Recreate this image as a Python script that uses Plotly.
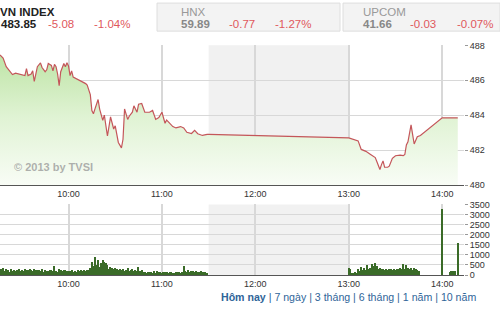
import plotly.graph_objects as go
import pandas as pd

DAY = "2013-07-01 "

# ---- index line data ----
idx_times = ["09:16","09:18","09:20","09:23","09:24","09:26","09:28","09:30","09:32","09:33",
             "09:34","09:36","09:37","09:38","09:39","09:40","09:42","09:43","09:45","09:46",
             "09:47","09:49","09:50","09:51","09:52","09:53","09:54","09:55","09:57","09:58",
             "09:59","10:00","10:01","10:02","10:03","10:06","10:09","10:11","10:12","10:14",
             "10:15","10:16","10:17","10:19","10:20","10:22","10:23","10:24","10:25","10:27",
             "10:29","10:30","10:32","10:34","10:35","10:36","10:38","10:39","10:41","10:42",
             "10:44","10:45","10:47","10:49","10:52","10:54","10:56","10:58","11:00","11:02",
             "11:03","11:04","11:07","11:09","11:12","11:14","11:16","11:19","11:21","11:23",
             "11:26","11:29","11:30",
             "13:00","13:02","13:04","13:06","13:08","13:11","13:14","13:15","13:17","13:18",
             "13:20","13:21","13:22","13:23","13:25","13:26","13:28","13:30","13:33","13:35",
             "13:36","13:37","13:38","13:40","13:41","13:42","13:44","13:46","14:00","14:10"]
idx_values = [487.45,487.27,486.78,486.45,486.33,486.41,486.36,486.33,486.27,486.67,
              486.27,486.36,486.54,485.94,486.45,486.78,487.00,486.73,486.49,486.60,
              486.96,486.85,486.54,486.91,486.78,486.36,485.69,486.49,486.96,486.78,
              487.00,486.82,486.27,486.54,486.18,486.05,485.94,485.81,485.72,485.18,
              484.27,484.08,484.36,484.90,484.35,483.70,484.00,483.35,482.81,483.90,
              483.21,483.39,482.44,482.13,482.62,484.36,483.76,483.94,484.17,484.54,
              484.17,484.63,484.67,484.17,484.17,484.27,483.76,483.87,484.17,483.54,
              483.72,483.63,483.35,483.27,483.35,483.27,483.02,482.95,483.13,482.94,
              482.84,482.90,482.90,
              482.70,482.63,482.59,482.53,482.04,481.93,481.75,481.68,481.57,481.35,
              480.89,481.17,481.38,481.02,481.02,481.08,481.53,481.68,481.71,481.68,
              481.75,482.30,482.48,483.45,482.81,482.35,482.77,482.84,483.85,483.85]

# ---- volume data ----
vol_morning = [300,260,340,180,290,220,150,260,200,240,
               170,230,260,190,250,160,280,230,210,260,
               240,180,270,220,250,230,190,260,150,240,
               200,170,230,210,160,420,200,150,270,230,
               180,220,250,190,
               200,160,230,150,190,140,210,170,230,180,250,200,240,
               250,330,640,420,880,500,720,400,560,740,620,560,480,300,380,330,260,320,
               280,250,300,220,260,200,240,310,180,220,260,200,230,170,380,200,240,
               120,150,90,140,110,130,80,160,100,190,120,140,90,150,110,130,80,120,140,100,
               90,130,110,150,100,120,
               430,
               200,150,230,130,160,190,120,170,140,110,160,130,120,150,100]
vol_afternoon = [350,280,60,90,120,60,270,180,400,250,350,240,460,300,350,510,420,560,430,300,
                 350,260,300,240,280,220,260,300,240,280,230,300,260,350,280,510,300,460,330,260,
                 350,230,330,280,250,200]
vol_late_times = ["14:00","14:05","14:06","14:07","14:08","14:10"]
vol_late = [3250,120,190,200,180,1580]

morning_times = [t.strftime("%H:%M") for t in pd.date_range(DAY + "09:16", DAY + "11:29", freq="1min")]
afternoon_times = [t.strftime("%H:%M") for t in pd.date_range(DAY + "13:00", DAY + "13:45", freq="1min")]
vol_times = morning_times + afternoon_times + vol_late_times
vol_values = vol_morning + vol_afternoon + vol_late

hour_ticks = ["10:00", "11:00", "12:00", "13:00", "14:00"]
idx_ticks = [480, 482, 484, 486, 488]
vol_ticks = [0, 500, 1000, 1500, 2000, 2500, 3000, 3500]

header = [("VN INDEX", "483.85", "-5.08", "-1.04%"),
          ("HNX", "59.89", "-0.77", "-1.27%"),
          ("UPCOM", "41.66", "-0.03", "-0.07%")]
links = ["Hôm nay", "7 ngày", "3 tháng", "6 tháng", "1 năm", "10 năm"]

W, H = 500, 312
FONT = "Arial, 'Liberation Sans', sans-serif"
RED = "#e0585c"

def px(x):
    return x / W
def py(y):
    return 1 - y / H

fig = go.Figure()

fig.add_trace(go.Scatter(
    x=[DAY + t for t in idx_times], y=idx_values, mode="lines",
    line=dict(color="#c4565a", width=1.2),
    fill="tozeroy",
    fillgradient=dict(type="vertical", start=480, stop=488,
                      colorscale=[[0, "rgba(250,253,248,1)"], [0.5, "#e0f3d4"], [1, "#b9e29f"]]),
    xaxis="x", yaxis="y", hoverinfo="skip", showlegend=False))

fig.add_trace(go.Bar(
    x=[DAY + t for t in vol_times], y=vol_values,
    marker=dict(color="#3a6b28", line=dict(width=0)),
    width=45000, xaxis="x2", yaxis="y2", showlegend=False, hoverinfo="skip"))

xr = [DAY + "09:16", DAY + "14:14"]
tickvals = [DAY + t for t in hour_ticks]
common_x = dict(type="date", range=xr, tickvals=tickvals, ticktext=hour_ticks,
                showgrid=True, gridcolor="#d8d8d8", gridwidth=1.5,
                showline=True, linecolor="#555", linewidth=1, ticks="",
                tickfont=dict(size=9, color="#333", family=FONT), zeroline=False,
                domain=[0, 464 / W], fixedrange=True)

fig.update_layout(
    width=W, height=H, margin=dict(l=0, r=0, t=0, b=0),
    paper_bgcolor="white", plot_bgcolor="white",
    xaxis=dict(**common_x, anchor="y"),
    xaxis2=dict(**common_x, anchor="y2"),
    yaxis=dict(domain=[py(186), py(41.7)], range=[480, 488], tickvals=idx_ticks,
               side="right", showgrid=True, gridcolor="#d8d8d8", zeroline=False,
               ticks="outside", ticklen=3, tickcolor="#999",
               tickfont=dict(size=9, color="#333", family=FONT), anchor="x"),
    yaxis2=dict(domain=[py(279), py(206)], range=[0, 3500], tickvals=vol_ticks,
                side="right", showgrid=True, gridcolor="#d8d8d8", zeroline=False,
                ticks="outside", ticklen=3, tickcolor="#999",
                tickfont=dict(size=9, color="#333", family=FONT), anchor="x2"),
    bargap=0,
)

# lunch break shading
for xa, ya in [("x", "y"), ("x2", "y2")]:
    fig.add_shape(type="rect", xref=xa, yref=ya + " domain", x0=DAY + "11:30", x1=DAY + "13:00",
                  y0=0, y1=1, fillcolor="#f1f1f1", line=dict(width=0), layer="below")

# header boxes
for x0, x1 in [(157, 340), (343, 500)]:
    fig.add_shape(type="rect", xref="paper", yref="paper", x0=px(x0), x1=px(x1),
                  y0=py(27), y1=py(-2), fillcolor="#f3f3f3", line=dict(color="#dedede", width=1))

def text(x, y, s, color="#222", size=11, bold=False):
    fig.add_annotation(x=px(x), y=py(y), xref="paper", yref="paper", text=("<b>%s</b>" % s) if bold else s,
                       showarrow=False, xanchor="left", yanchor="middle",
                       font=dict(size=size, color=color, family=FONT))

# VN INDEX
text(-2, 7, header[0][0], "#222", 11.5, True)
text(-1, 19.5, header[0][1], "#222", 11.5, True)
text(46, 19.5, header[0][2], RED, 11.5)
text(92, 19.5, header[0][3], RED, 11.5)
# HNX
text(179, 7, header[1][0], "#999", 11.5)
text(179, 19.5, header[1][1], "#888", 11.5, True)
text(227, 19.5, header[1][2], RED, 11.5)
text(273, 19.5, header[1][3], RED, 11.5)
# UPCOM
text(361, 7, header[2][0], "#999", 11.5)
text(361, 19.5, header[2][1], "#888", 11.5, True)
text(408, 19.5, header[2][2], RED, 11.5)
text(455, 19.5, header[2][3], RED, 11.5)

# watermark
text(12, 167, "© 2013 by TVSI", "rgba(150,150,150,0.75)", 11, True)

# bottom links
link_html = "<b>%s</b>" % links[0] + "".join(" | %s" % l for l in links[1:])
fig.add_annotation(x=px(478), y=py(302), xref="paper", yref="paper", text=link_html,
                   showarrow=False, xanchor="right", yanchor="middle",
                   font=dict(size=10.6, color="#2f6599", family=FONT))

fig.write_html("out.html")
